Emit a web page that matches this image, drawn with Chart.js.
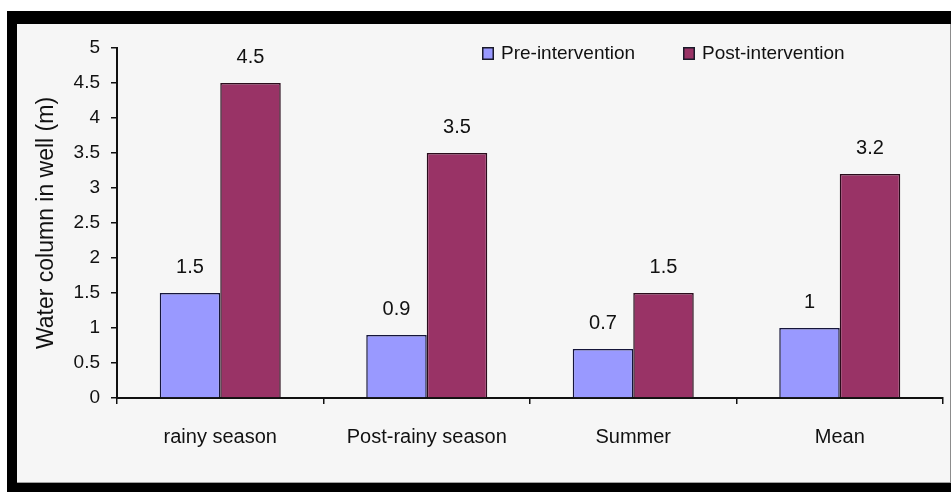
<!DOCTYPE html>
<html>
<head>
<meta charset="utf-8">
<script src="https://cdn.jsdelivr.net/npm/chart.js@4.4.1/dist/chart.umd.min.js"></script>
<style>
  html, body { margin: 0; padding: 0; background: #fff; }
  canvas { display: block; }
</style>
</head>
<body>
<canvas id="chart" width="951" height="492"></canvas>
<script>
// Water column in well, before and after the intervention
const categories = ['rainy season', 'Post-rainy season', 'Summer', 'Mean'];
const preIntervention = [1.5, 0.9, 0.7, 1];
const postIntervention = [4.5, 3.5, 1.5, 3.2];
const seriesNames = ['Pre-intervention', 'Post-intervention'];
const yTickValues = [0, 0.5, 1, 1.5, 2, 2.5, 3, 3.5, 4, 4.5, 5];
const yAxisTitle = 'Water column in well (m)';

const FONT = '"Liberation Sans", Arial, sans-serif';
const INK = '#111';

// Black photo-style frame with a light grey panel inside
const framePlugin = {
  id: 'frame',
  beforeDraw(chart) {
    const { ctx, width, height } = chart;
    ctx.save();
    ctx.fillStyle = '#fff';
    ctx.fillRect(0, 0, width, height);
    ctx.fillStyle = '#000';
    ctx.fillRect(7, 11, width - 7, height - 11);
    ctx.fillStyle = '#f6f6f6';
    ctx.fillRect(17, 24, width - 18, 459);
    ctx.fillStyle = '#8c8c8c';
    ctx.fillRect(width - 1, 24, 1, 459);
    ctx.fillStyle = '#a0a0a0';
    ctx.fillRect(17, 482, width - 18, 1);
    ctx.restore();
  }
};

// Value printed above each bar
const valueLabelPlugin = {
  id: 'valueLabels',
  afterDatasetsDraw(chart) {
    const ctx = chart.ctx;
    ctx.save();
    ctx.font = '20px ' + FONT;
    ctx.fillStyle = INK;
    ctx.textAlign = 'center';
    ctx.textBaseline = 'alphabetic';
    chart.data.datasets.forEach((ds, i) => {
      chart.getDatasetMeta(i).data.forEach((bar, j) => {
        ctx.fillText(String(ds.data[j]), bar.x, bar.y - 20);
      });
    });
    ctx.restore();
  }
};

// Legend drawn inside the plot, upper right
const legendPlugin = {
  id: 'insideLegend',
  afterDraw(chart) {
    const ctx = chart.ctx;
    const starts = [482, 683];
    ctx.save();
    ctx.font = '19px ' + FONT;
    ctx.textBaseline = 'middle';
    ctx.textAlign = 'left';
    chart.data.datasets.forEach((ds, i) => {
      const x = starts[i];
      ctx.fillStyle = ds.backgroundColor;
      ctx.fillRect(x, 47, 12, 13);
      ctx.strokeStyle = '#1a1a2a';
      ctx.lineWidth = 1.5;
      ctx.strokeRect(x + 0.75, 47.75, 10.5, 11.5);
      ctx.fillStyle = INK;
      ctx.fillText(ds.label, x + 19, 54);
    });
    ctx.restore();
  }
};

new Chart(document.getElementById('chart'), {
  type: 'bar',
  data: {
    labels: categories,
    datasets: [
      {
        label: seriesNames[0],
        data: preIntervention,
        backgroundColor: '#9999ff',
        borderColor: '#15153a',
        borderWidth: 1.5
      },
      {
        label: seriesNames[1],
        data: postIntervention,
        backgroundColor: '#993366',
        borderColor: '#2a0c1c',
        borderWidth: 1.5
      }
    ]
  },
  options: {
    responsive: false,
    animation: false,
    devicePixelRatio: 1,
    layout: { padding: { top: 48, right: 8, bottom: 0, left: 0 } },
    datasets: {
      bar: { barPercentage: 1, categoryPercentage: 0.586 }
    },
    plugins: {
      legend: { display: false },
      tooltip: { enabled: false }
    },
    scales: {
      x: {
        grid: {
          offset: true,
          drawOnChartArea: false,
          drawTicks: true,
          tickLength: 6,
          color: INK,
          lineWidth: 1.5
        },
        border: { display: true, color: INK, width: 2 },
        ticks: {
          color: INK,
          font: { family: FONT, size: 20 },
          padding: 21,
          maxRotation: 0
        },
        afterFit(scale) { scale.height = 94; }
      },
      y: {
        min: 0,
        max: 5,
        afterBuildTicks(scale) {
          scale.ticks = yTickValues.map(v => ({ value: v }));
        },
        grid: {
          drawOnChartArea: false,
          drawTicks: true,
          tickLength: 6,
          color: INK,
          lineWidth: 1.5
        },
        border: { display: true, color: INK, width: 2 },
        ticks: {
          color: INK,
          font: { family: FONT, size: 19 },
          padding: 11,
          callback: v => String(v)
        },
        title: {
          display: true,
          text: yAxisTitle,
          color: INK,
          font: { family: FONT, size: 23 },
          padding: { top: 33, bottom: 0 }
        },
        afterFit(scale) { scale.width = 117; }
      }
    }
  },
  plugins: [framePlugin, valueLabelPlugin, legendPlugin]
});
</script>
</body>
</html>
